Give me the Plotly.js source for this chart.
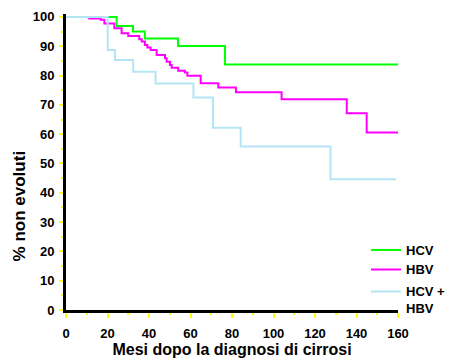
<!DOCTYPE html>
<html>
<head>
<meta charset="utf-8">
<script src="https://cdn.plot.ly/plotly-3.0.1.min.js"></script>
<style>
  html, body { margin: 0; padding: 0; background: #fff; }
  #chart { width: 452px; height: 358px; }
</style>
</head>
<body>
<div id="chart"></div>
<script>
// Kaplan-Meier style survival curves (months vs % non evoluti)
const hcvMonths = [0, 24.4, 32.3, 38, 54, 76.6, 160];
const hcvValues = [100, 96.9, 95, 92.6, 90.1, 83.8, 83.8];

const hbvMonths = [0, 11.2, 16.7, 18.5, 23.3, 26.8, 30, 35.3, 36.5, 38, 39.2, 40.8, 43.7, 47.7, 48.5, 50.1, 50.9, 54.1, 57.3, 58.5, 64.9, 73.4, 81.9, 103.9, 135.3, 144.9, 160];
const hbvValues = [100, 99.5, 99, 97.8, 96.1, 94.4, 93.5, 92.4, 91.6, 90.4, 89.6, 88.7, 87.0, 85.9, 84.7, 83.6, 82.7, 81.6, 81.0, 79.9, 77.4, 75.9, 74.3, 71.9, 67.1, 60.6, 60.6];

const bothMonths = [0, 20.1, 23.6, 32.4, 43.2, 61.4, 70.8, 84.2, 127.5, 159];
const bothValues = [100, 88.7, 85.3, 81.3, 77.3, 72.5, 62.2, 55.8, 44.6, 44.6];

const seriesNames = ['HCV', 'HBV', 'HCV +<br>HBV'];
const xTicks = [0, 20, 40, 60, 80, 100, 120, 140, 160];
const yTicks = [0, 10, 20, 30, 40, 50, 60, 70, 80, 90, 100];

const FONT = 'Liberation Sans, Arial, Helvetica, sans-serif';

const traces = [
  { x: hcvMonths, y: hcvValues, name: seriesNames[0], legend: 'legend',
    mode: 'lines', line: { shape: 'hv', color: '#00ff00', width: 2 } },
  { x: hbvMonths, y: hbvValues, name: seriesNames[1], legend: 'legend2',
    mode: 'lines', line: { shape: 'hv', color: '#ff00ff', width: 2 } },
  { x: bothMonths, y: bothValues, name: seriesNames[2], legend: 'legend3',
    mode: 'lines', line: { shape: 'hv', color: '#b3e6f5', width: 2 } }
];

const legendBase = {
  bgcolor: 'rgba(0,0,0,0)', borderwidth: 0, xanchor: 'left', x: 0.9036,
  font: { family: FONT, size: 13, color: '#000', weight: 'bold' },
  itemwidth: 30, valign: 'top', tracegroupgap: 0
};

const layout = {
  width: 452, height: 358,
  margin: { l: 66, r: 54, t: 14, b: 48, pad: 0, autoexpand: false },
  paper_bgcolor: '#fff', plot_bgcolor: '#fff',
  font: { family: FONT, size: 13, color: '#000', weight: 'bold' },
  showlegend: true,
  legend: Object.assign({}, legendBase, { y: 0.2027, yanchor: 'middle' }),
  legend2: Object.assign({}, legendBase, { y: 0.137, yanchor: 'middle' }),
  legend3: Object.assign({}, legendBase, { y: 0.034, yanchor: 'middle' }),
  xaxis: {
    range: [0, 160], tickvals: xTicks, ticktext: xTicks.map(String),
    showgrid: false, zeroline: false, showline: true, linecolor: '#000', linewidth: 3,
    ticks: 'outside', ticklen: 5, tickwidth: 2, tickcolor: '#ffff00',
    minor: { dtick: 10, ticks: 'outside', ticklen: 2, tickwidth: 2, tickcolor: '#ffff00', showgrid: false },
    tickfont: { family: FONT, size: 13, color: '#000', weight: 'bold' },
    ticklabelstandoff: 4,
    title: { text: 'Mesi dopo la diagnosi di cirrosi', standoff: 0,
             font: { family: FONT, size: 16, color: '#000', weight: 'bold' } },
    fixedrange: true
  },
  yaxis: {
    range: [0, 101], tickvals: yTicks, ticktext: yTicks.map(String),
    showgrid: false, zeroline: false, showline: true, linecolor: '#000', linewidth: 3,
    ticks: 'outside', ticklen: 4, tickwidth: 2, tickcolor: '#ffff00',
    minor: { dtick: 5, ticks: 'outside', ticklen: 2, tickwidth: 2, tickcolor: '#ffff00', showgrid: false },
    tickfont: { family: FONT, size: 13, color: '#000', weight: 'bold' },
    ticklabelstandoff: 2,
    fixedrange: true
  },
  annotations: [{
    text: '% non evoluti', textangle: -90, showarrow: false,
    xref: 'paper', yref: 'paper', x: 0, y: 0.35, xanchor: 'center', yanchor: 'middle',
    xshift: -47,
    font: { family: FONT, size: 17, color: '#000', weight: 'bold' }
  }]
};

Plotly.newPlot('chart', traces, layout, { displayModeBar: false, staticPlot: true });
</script>
</body>
</html>
